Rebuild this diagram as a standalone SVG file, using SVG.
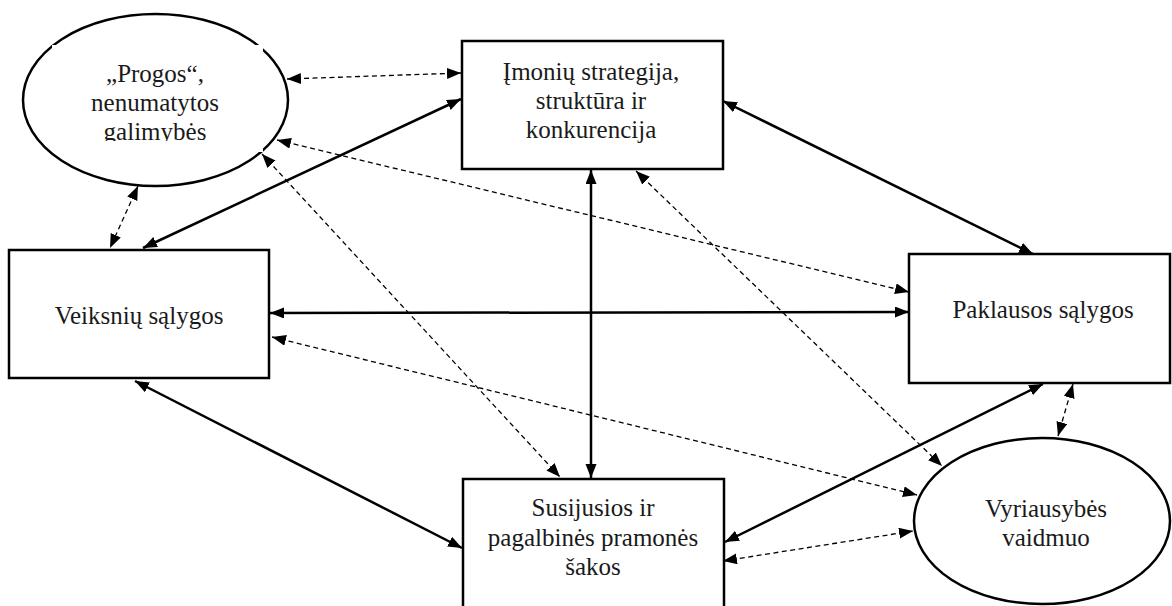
<svg xmlns="http://www.w3.org/2000/svg" width="1172" height="606" viewBox="0 0 1172 606">
<style>
.node{fill:#fff;stroke:#000;stroke-width:2.5}
.t{font-family:"Liberation Serif","Times New Roman",serif;font-size:25px;fill:#1a1a1a;text-anchor:middle}
.s{stroke:#000;stroke-width:2.5;fill:none;marker-start:url(#ah);marker-end:url(#ah)}
.d{stroke:#000;stroke-width:1.3;fill:none;stroke-dasharray:5 3.5;marker-start:url(#ah);marker-end:url(#ah)}
</style>
<defs>
<marker id="ah" markerUnits="userSpaceOnUse" markerWidth="15" markerHeight="12" refX="14" refY="5.5" orient="auto-start-reverse" viewBox="0 0 15 12">
<path d="M0,0 L14,5.5 L0,11 z" fill="#000"/>
</marker>
<clipPath id="pc"><rect x="52" y="45" width="211" height="96"/></clipPath>
</defs>
<rect width="1172" height="606" fill="#fff"/>
<g id="progos">
<ellipse class="node" cx="155.5" cy="100" rx="132.5" ry="86"/>
<rect x="52" y="45" width="211" height="107" fill="#fff"/>
<g clip-path="url(#pc)">
<text class="t" x="155" y="82">„Progos“,</text>
<text class="t" x="155" y="111">nenumatytos</text>
<text class="t" x="155" y="140">galimybės</text>
</g>
</g>
<g id="imoniu">
<rect class="node" x="462" y="41" width="261" height="128"/>
<text class="t" x="591" y="80">Įmonių strategija,</text>
<text class="t" x="591" y="109">struktūra ir</text>
<text class="t" x="591" y="138">konkurencija</text>
</g>
<g id="veiksniu">
<rect class="node" x="9" y="250" width="260" height="128"/>
<text class="t" x="139" y="324">Veiksnių sąlygos</text>
</g>
<g id="paklausos">
<rect class="node" x="909" y="254" width="261" height="129"/>
<text class="t" x="1043" y="318">Paklausos sąlygos</text>
</g>
<g id="susijusios">
<rect class="node" x="463" y="479" width="261" height="140"/>
<text class="t" x="593" y="516">Susijusios ir</text>
<text class="t" x="593" y="546">pagalbinės pramonės</text>
<text class="t" x="593" y="575">šakos</text>
</g>
<g id="vyriausybes">
<ellipse class="node" cx="1042" cy="521" rx="128" ry="83"/>
<text class="t" x="1046" y="517">Vyriausybės</text>
<text class="t" x="1046" y="546">vaidmuo</text>
</g>
<g id="connectors">
<line class="d" x1="287" y1="79" x2="461" y2="73"/>
<line class="s" x1="143" y1="248" x2="461" y2="99"/>
<line class="d" x1="277" y1="140" x2="909" y2="292"/>
<line class="d" x1="262" y1="154" x2="560" y2="477"/>
<line class="d" x1="138" y1="186" x2="110" y2="248"/>
<line class="s" x1="591" y1="170" x2="591" y2="478"/>
<line class="d" x1="636" y1="171" x2="942" y2="466"/>
<line class="s" x1="723" y1="101" x2="1033" y2="254"/>
<line class="s" x1="270" y1="313" x2="909" y2="312"/>
<line class="d" x1="272" y1="337" x2="917" y2="495"/>
<line class="s" x1="135" y1="381" x2="462" y2="548"/>
<line class="s" x1="1043" y1="384" x2="725" y2="542"/>
<line class="d" x1="1073" y1="384" x2="1058" y2="436"/>
<line class="d" x1="723" y1="561" x2="913" y2="531"/>
</g>
</svg>
